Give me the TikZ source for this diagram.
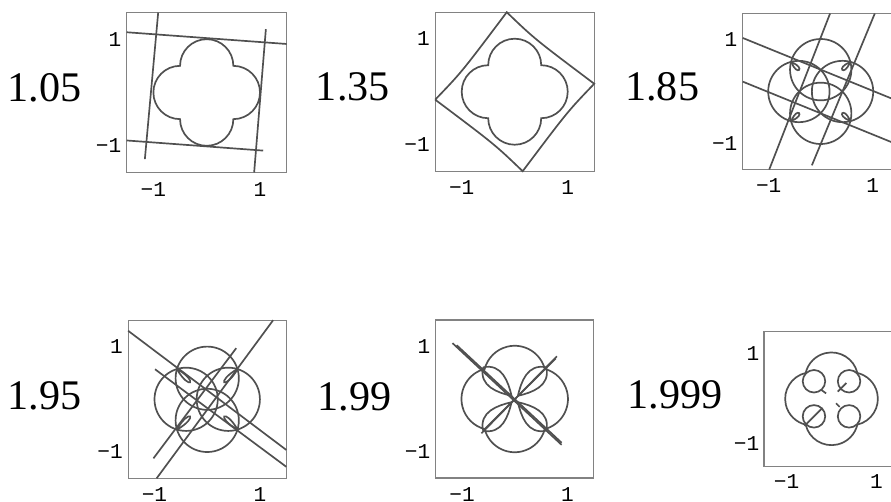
\documentclass[tikz,border=0pt]{standalone}
\usepackage{fontspec}
\setmainfont{Liberation Serif}
\setmonofont{Liberation Mono}
\usetikzlibrary{calc}
\definecolor{plotgray}{RGB}{80,80,80}
\definecolor{boxgray}{RGB}{130,130,130}
\tikzset{curve/.style={plotgray,line width=1.6pt},
 plotbox/.style={boxgray,line width=1.2pt},
 tick/.style={font=\ttfamily\fontsize{20}{20}\selectfont,inner sep=0pt},
 value/.style={font=\fontsize{40}{40}\selectfont,inner sep=0pt,anchor=east}}
% frame and tick labels of one plot, in plot units
\newcommand{\plotframe}{%
 \draw[plotbox] (-1.5,-1.5) rectangle (1.5,1.5);
 \node[tick,anchor=east] (yhi) at (-1.6,1) {1};
 \node[tick,anchor=east] (ylo) at (-1.6,-1) {−1};
 \node[tick,anchor=north] (xlo) at (-1,-1.68) {−1};
 \node[tick,anchor=north] (xhi) at (1,-1.68) {1};}
% outer arcs of the four circles
\newcommand{\flower}{%
 \draw[curve] (0.5,0.5) arc[start angle=90,end angle=-90,radius=0.5]
  arc[start angle=0,end angle=-180,radius=0.5]
  arc[start angle=-90,end angle=-270,radius=0.5]
  arc[start angle=180,end angle=0,radius=0.5] -- cycle;}

\begin{document}
\begin{tikzpicture}
\useasboundingbox (0,0) rectangle (29.7,-16.7);

\node[value] (v1) at (2.72,-2.94) {1.05};
\node[value] (v2) at (13.0,-2.89) {1.35};
\node[value] (v3) at (23.31,-2.89) {1.85};
\node[value] (v4) at (2.72,-13.2) {1.95};
\node[value] (v5) at (13.06,-13.23) {1.99};
\node[value] (v6) at (24.09,-13.17) {1.999};

% 1.05
\begin{scope}[shift={(6.89,-3.083)},scale=1.777]
\plotframe
\flower
\draw[curve] (-1.5,1.13) -- (1.5,0.91);
\draw[curve] (-1.5,-0.9) -- (1.06,-1.09);
\draw[curve] (-0.91,1.5) -- (-1.16,-1.25);
\draw[curve] (1.11,1.19) -- (0.89,-1.5);
\end{scope}

% 1.35
\begin{scope}[shift={(17.157,-3.057)},scale=1.767]
\plotframe
\flower
\draw[curve] (-1.5,-0.15) .. controls (-1.0,0.37) .. (-0.15,1.5)
 .. controls (0.37,1.0) .. (1.5,0.15) .. controls (1.0,-0.37) .. (0.15,-1.5)
 .. controls (-0.37,-1.0) .. (-1.5,-0.15);
\end{scope}

% 1.85
\begin{scope}[shift={(27.357,-3.05)},scale=1.733]
\plotframe
\foreach \a in {0,90,180,270}{
 \draw[curve,rotate=\a] (0,0.42) circle[radius=0.59];
 \draw[curve,rotate=\a] (-0.56,0.56) .. controls +(-20:0.3) and +(-70:0.3) .. (-0.56,0.56);}
\draw[curve] (-0.99,-1.5) -- (0.18,1.5);
\draw[curve] (-0.17,-1.42) -- (1.04,1.5);
\draw[curve] (-1.5,1.03) -- (1.5,-0.19);
\draw[curve] (-1.5,0.19) -- (1.5,-1.03);
\end{scope}

% 1.95
\begin{scope}[shift={(6.907,-13.31)},scale=1.757]
\plotframe
\foreach \a in {0,90,180,270}{
 \draw[curve,rotate=\a] (0,0.4) circle[radius=0.6];
 \draw[curve,rotate=\a] (-0.58,0.58) .. controls +(-30:0.5) and +(-60:0.5) .. (-0.58,0.58);}
\draw[curve] (-1.5,1.3) -- (1.5,-0.96);
\draw[curve] (-0.99,0.57) -- (1.5,-1.28);
\draw[curve] (1.25,1.5) -- (-0.96,-1.5);
\draw[curve] (-1.02,-1.12) -- (0.55,0.97);
\end{scope}

% 1.99
\begin{scope}[shift={(17.157,-13.3)},scale=1.757]
\plotframe
\foreach \a in {0,90,180,270}{
 \draw[curve,rotate=\a] (0,0.42) ++(14:0.59) arc[start angle=14,end angle=166,radius=0.59];
 \draw[curve,rotate=\a] (-0.6,0.6) .. controls (-0.68,0.24) and (-0.32,0.12) .. (-0.06,0.06)
  .. controls (-0.12,0.32) and (-0.24,0.68) .. (-0.6,0.6);}
\draw[curve] (-1.18,1.06) -- (0.89,-0.87);
\draw[curve] (-1.1,1.02) -- (0.89,-0.83);
\draw[curve] (-0.63,-0.65) -- (0.8,0.81);
\draw[curve] (-0.6,-0.6) -- (0.78,0.77);
\end{scope}

% 1.999
\begin{scope}[shift={(27.717,-13.293)},scale=1.5]
\plotframe
\foreach \a in {0,90,180,270}{
 \draw[curve,rotate=\a] (0,0.44) ++(13:0.59) arc[start angle=13,end angle=167,radius=0.59];
 \draw[curve,rotate=\a] (-0.39,0.39) circle[radius=0.25];}
\draw[curve] (-0.6,-0.6) -- (-0.2,-0.2);
\draw[curve] (0.14,0.16) -- (0.33,0.35);
\draw[curve] (-0.23,0.2) -- (-0.12,0.12);
\draw[curve] (0.1,-0.1) -- (0.18,-0.18);
\end{scope}
\end{tikzpicture}
\end{document}
